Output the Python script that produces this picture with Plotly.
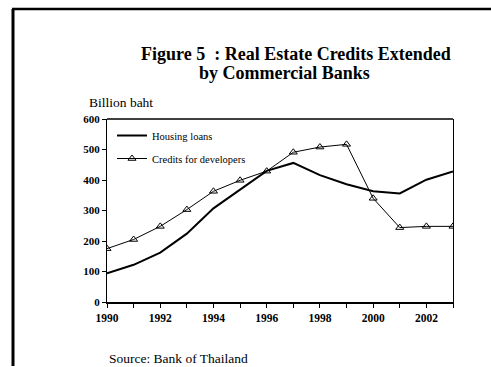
import plotly.graph_objects as go

# Annual series, billion baht
years = list(range(1990, 2004))
housing_loans = [94, 122, 162, 224, 307, 370, 430, 456, 416, 386, 363, 356, 401, 428]
developer_credits = [175, 205, 248, 303, 363, 399, 429, 491, 508, 517, 340, 244, 248, 248]

x_tick_vals = years
x_tick_text = [str(y) if y % 2 == 0 else "" for y in years]
y_tick_vals = [0, 100, 200, 300, 400, 500, 600]

SERIF = "Liberation Serif, Times New Roman, serif"

W, H = 491, 367
L, R, T, B = 107, 38, 119, 65
pw, ph = W - L - R, H - T - B


def px_x(px):
    return (px - L) / pw


def px_y(py):
    return (H - B - py) / ph


fig = go.Figure()
fig.add_trace(go.Scatter(
    x=years, y=housing_loans, mode="lines", name="Housing loans",
    line=dict(color="black", width=2), legendgroup="a",
))
fig.add_trace(go.Scatter(
    x=years, y=developer_credits, mode="lines+markers", name="Credits for developers",
    line=dict(color="black", width=1), legendgroup="b",
    marker=dict(symbol="triangle-up-open", size=7, color="black", line=dict(width=1, color="black")),
))


def label(text, x, y, size, xanchor="center"):
    return dict(text=text, xref="paper", yref="paper", x=px_x(x), y=px_y(y),
                xanchor=xanchor, yanchor="middle", showarrow=False,
                font=dict(size=size, family=SERIF, color="black"))


fig.update_layout(
    width=W, height=H,
    margin=dict(l=L, r=R, t=T, b=B),
    paper_bgcolor="white", plot_bgcolor="white",
    font=dict(family=SERIF, color="black"),
    showlegend=True,
    legend=dict(
        x=px_x(112), y=px_y(121), xanchor="left", yanchor="top",
        bgcolor="rgba(0,0,0,0)", font=dict(size=10.5, family=SERIF),
        tracegroupgap=4, itemwidth=30,
    ),
    xaxis=dict(
        range=[1990, 2003], tickvals=x_tick_vals, ticktext=x_tick_text,
        ticks="outside", ticklen=4, tickwidth=1, tickcolor="black",
        showline=True, linewidth=2, linecolor="black", showgrid=False, zeroline=False,
        tickfont=dict(size=11.5, family=SERIF, weight="bold"),
    ),
    yaxis=dict(
        range=[0, 600], tickvals=y_tick_vals,
        ticks="outside", ticklen=4, tickwidth=1, tickcolor="black",
        showline=True, linewidth=1, linecolor="black", mirror=True,
        showgrid=False, zeroline=False,
        tickfont=dict(size=11, family=SERIF, weight="bold"),
    ),
    shapes=[
        # plot frame top edge
        dict(type="line", xref="paper", yref="paper", x0=0, x1=1, y0=1, y1=1,
             line=dict(color="black", width=1.5)),
        # outer page frame, left edge
        dict(type="line", xref="paper", yref="paper",
             x0=px_x(13), x1=px_x(13), y0=px_y(9), y1=px_y(366),
             line=dict(color="black", width=3)),
        # outer page frame, top edge
        dict(type="line", xref="paper", yref="paper",
             x0=px_x(12), x1=px_x(491), y0=px_y(9), y1=px_y(9),
             line=dict(color="black", width=2.5)),
    ],
    annotations=[
        label("<b>Figure 5  : Real Estate Credits Extended</b>", 296, 54, 18),
        label("<b>by Commercial Banks</b>", 284, 73, 18),
        label("Billion baht", 87, 103, 13.5, xanchor="left"),
        label("Source: Bank of Thailand", 107, 358, 13.5, xanchor="left"),
    ],
)

# keep the page itself from scrolling so the figure fills the window exactly
page_css = (
    "document.documentElement.style.overflow='hidden';"
    "document.body.style.overflow='hidden';"
    "document.body.style.margin='0';"
)
fig.write_html("out.html", post_script=page_css)
